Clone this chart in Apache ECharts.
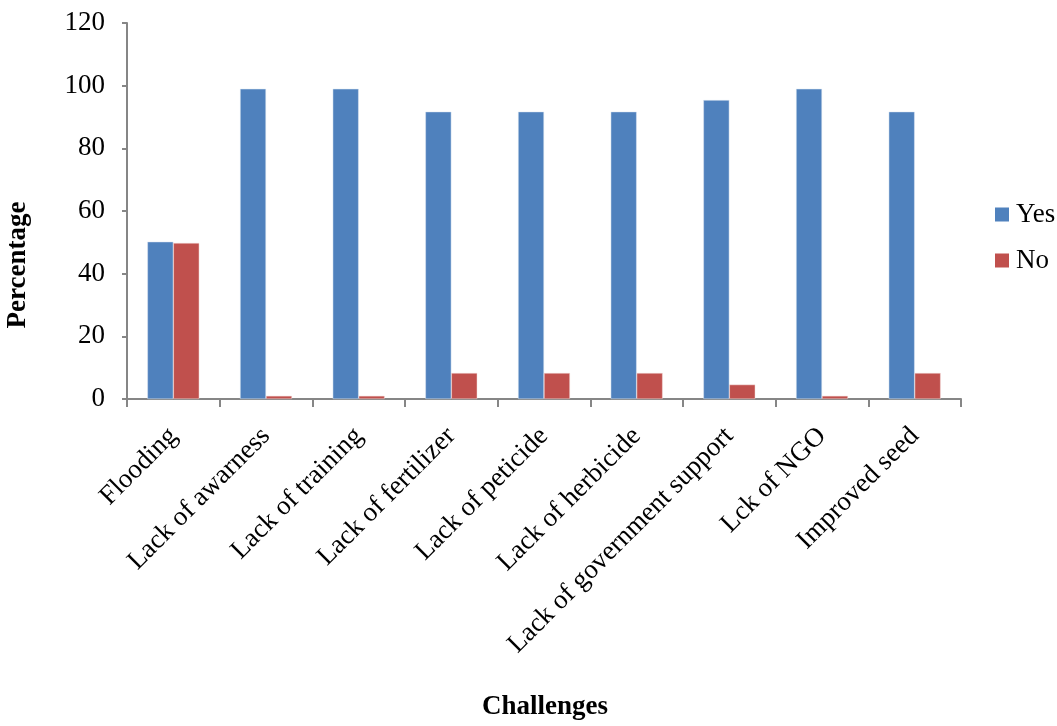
<!DOCTYPE html>
<html>
<head>
<meta charset="utf-8">
<script src="https://cdn.jsdelivr.net/npm/echarts@6/dist/echarts.min.js"></script>
<style>
  html, body { margin: 0; padding: 0; background: #fff; }
  #chart { width: 1057px; height: 726px; }
</style>
</head>
<body>
<div id="chart"></div>
<script>
// Challenges reported by respondents (percent answering Yes / No)
const categories = [
  'Flooding', 'Lack of awarness', 'Lack of training', 'Lack of fertilizer',
  'Lack of peticide', 'Lack of herbicide', 'Lack of government support',
  'Lck of NGO', 'Improved seed'
];
const yesValues = [50.2, 99.0, 99.0, 91.7, 91.7, 91.7, 95.4, 99.0, 91.7];
const noValues  = [49.8, 1.0, 1.0, 8.3, 8.3, 8.3, 4.6, 1.0, 8.3];
const yTicks = { min: 0, max: 120, interval: 20 };

const FONT = '"Liberation Serif", "Times New Roman", serif';
const AXIS_GRAY = '#868686';
const FS = 27;

const chart = echarts.init(document.getElementById('chart'));
chart.setOption({
  animation: false,
  backgroundColor: '#ffffff',
  textStyle: { fontFamily: FONT, color: '#000' },
  grid: { left: 127, right: 96, top: 23, bottom: 327, containLabel: false },
  legend: {
    orient: 'vertical',
    left: 990,
    top: 196,
    itemWidth: 14,
    itemHeight: 14,
    itemGap: 19,
    icon: 'rect',
    itemStyle: { borderWidth: 0 },
    textStyle: { fontFamily: FONT, fontSize: FS, color: '#000', padding: [0, 0, 0, 2] },
    data: ['Yes', 'No']
  },
  xAxis: {
    type: 'category',
    data: categories,
    boundaryGap: true,
    axisLine: { lineStyle: { color: AXIS_GRAY, width: 2 } },
    axisTick: { show: true, alignWithLabel: false, length: 8, lineStyle: { color: AXIS_GRAY, width: 2 } },
    axisLabel: {
      interval: 0, rotate: 45, margin: 33,
      padding: [42, 0, 0, 0],
      fontFamily: FONT, fontSize: FS, color: '#000'
    },
    splitLine: { show: false }
  },
  yAxis: {
    type: 'value',
    min: yTicks.min,
    max: yTicks.max,
    interval: yTicks.interval,
    axisLine: { show: true, lineStyle: { color: AXIS_GRAY, width: 2 } },
    axisTick: { show: true, length: 5, lineStyle: { color: AXIS_GRAY, width: 2 } },
    axisLabel: { margin: 22, fontFamily: FONT, fontSize: FS, color: '#000' },
    splitLine: { show: false }
  },
  series: [
    {
      name: 'Yes',
      type: 'bar',
      data: yesValues,
      barGap: '0%',
      barCategoryGap: '44%',
      itemStyle: { color: '#4F81BD', borderColor: '#dce6f2', borderWidth: 0.5 }
    },
    {
      name: 'No',
      type: 'bar',
      data: noValues,
      barGap: '0%',
      barCategoryGap: '44%',
      itemStyle: { color: '#C0504D', borderColor: '#f2dcdb', borderWidth: 0.5 }
    }
  ],
  graphic: [
    {
      type: 'text',
      x: 18.5,
      y: 265,
      rotation: Math.PI / 2,
      style: {
        text: 'Percentage', font: 'bold ' + FS + 'px ' + FONT, fill: '#000',
        textAlign: 'center', textVerticalAlign: 'middle'
      }
    },
    {
      type: 'text',
      x: 545,
      y: 707,
      style: {
        text: 'Challenges', font: 'bold ' + FS + 'px ' + FONT, fill: '#000',
        textAlign: 'center', textVerticalAlign: 'middle'
      }
    }
  ]
});
</script>
</body>
</html>
